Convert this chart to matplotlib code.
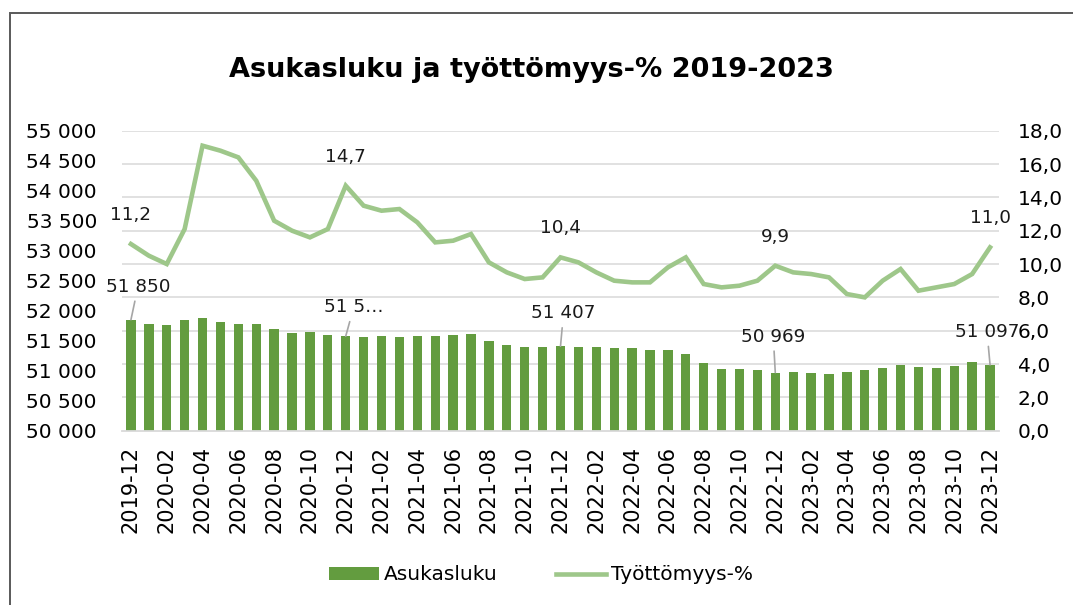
import numpy as np
import matplotlib
matplotlib.use("Agg")
import matplotlib.pyplot as plt
from matplotlib.patches import Rectangle
from matplotlib.ticker import FuncFormatter

# kuukaudet 2019-12 ... 2023-12
months = ["2019-12",
          "2020-01", "2020-02", "2020-03", "2020-04", "2020-05", "2020-06",
          "2020-07", "2020-08", "2020-09", "2020-10", "2020-11", "2020-12",
          "2021-01", "2021-02", "2021-03", "2021-04", "2021-05", "2021-06",
          "2021-07", "2021-08", "2021-09", "2021-10", "2021-11", "2021-12",
          "2022-01", "2022-02", "2022-03", "2022-04", "2022-05", "2022-06",
          "2022-07", "2022-08", "2022-09", "2022-10", "2022-11", "2022-12",
          "2023-01", "2023-02", "2023-03", "2023-04", "2023-05", "2023-06",
          "2023-07", "2023-08", "2023-09", "2023-10", "2023-11", "2023-12"]

asukasluku = [51850, 51780, 51760, 51838, 51876, 51815, 51776, 51776, 51703, 51631,
              51642, 51592, 51575, 51565, 51570, 51565, 51576, 51570, 51592, 51615,
              51503, 51426, 51387, 51403, 51407, 51398, 51398, 51381, 51370, 51353,
              51348, 51270, 51131, 51031, 51031, 51009, 50969, 50970, 50965, 50948,
              50981, 51015, 51037, 51092, 51065, 51053, 51076, 51153, 51097]

tyottomyys = [11.2, 10.5, 10.0, 12.1, 17.1, 16.8, 16.4, 15.0, 12.6, 12.0,
              11.6, 12.1, 14.7, 13.5, 13.2, 13.3, 12.5, 11.3, 11.4, 11.8,
              10.1, 9.5, 9.1, 9.2, 10.4, 10.1, 9.5, 9.0, 8.9, 8.9,
              9.8, 10.4, 8.8, 8.6, 8.7, 9.0, 9.9, 9.5, 9.4, 9.2,
              8.2, 8.0, 9.0, 9.7, 8.4, 8.6, 8.8, 9.4, 11.0]

# indeksit joille on datatunniste
bar_labels = {0: "51 850", 12: "51 5\u2026", 24: "51 407", 36: "50 969", 48: "51 097"}
line_labels = [0, 12, 24, 36, 48]

bar_color = "#639C3F"
line_color = "#9EC78A"
grid_color = "#D9D9D9"
FS = 14.5

fig = plt.figure(figsize=(10.73, 6.05), dpi=100)
ax = fig.add_axes([122 / 1073, 1 - 430.7 / 605, 877 / 1073, 300 / 605])
ax2 = ax.twinx()

x = np.arange(len(months))
ax.bar(x, [v - 50000 for v in asukasluku], bottom=50000, width=0.52,
       color=bar_color, zorder=2, label="Asukasluku")
ax2.plot(x, tyottomyys, color=line_color, lw=3.3, solid_joinstyle="miter",
         label="Työttömyys-%", zorder=3)

ax.set_xlim(-0.5, len(months) - 0.5)
ax.set_ylim(50000, 55000)
ax2.set_ylim(0, 18)

# vaakaviivat oikean akselin mukaan
for v in np.arange(0, 19, 2):
    if v > 0:
        ax.axhline(50000 + v / 18 * 5000, color=grid_color, lw=1.1, zorder=0)

ax.set_yticks(np.arange(50000, 55001, 500))
ax.yaxis.set_major_formatter(FuncFormatter(lambda v, p: f"{int(v):,}".replace(",", " ")))
ax2.set_yticks(np.arange(0, 19, 2))
ax2.yaxis.set_major_formatter(FuncFormatter(lambda v, p: f"{v:.1f}".replace(".", ",")))
ax.set_xticks(x[::2])
ax.set_xticklabels(months[::2], rotation=90)

# pad pisteinä (1 px = 0.72 pt)
ax.tick_params(axis="y", length=0, pad=18, labelsize=FS)
ax2.tick_params(axis="y", length=0, pad=13.5, labelsize=FS)
ax.tick_params(axis="x", length=0, pad=11, labelsize=15)

for s in ["top", "left", "right"]:
    ax.spines[s].set_visible(False)
for s in ax2.spines.values():
    s.set_visible(False)
ax.spines["bottom"].set_color(grid_color)
ax.spines["bottom"].set_linewidth(1.3)

# datatunnisteet
bar_offsets = {0: (7, 33), 12: (8, 29), 24: (3, 33), 36: (-2, 36), 48: (-3, 33)}
for i, txt in bar_labels.items():
    ax.annotate(txt, (x[i], asukasluku[i]), xytext=bar_offsets[i],
                textcoords="offset pixels", ha="center", va="center",
                fontsize=13.2, color="#1a1a1a", zorder=5,
                arrowprops=dict(arrowstyle="-", color="#A6A6A6", lw=1.2,
                                shrinkA=2, shrinkB=0))
for i in line_labels:
    ax2.annotate(f"{tyottomyys[i]:.1f}".replace(".", ","), (x[i], tyottomyys[i]),
                 xytext=(0, 29), textcoords="offset pixels", ha="center",
                 va="center", fontsize=13.2, color="#1a1a1a")

fig.text(531 / 1073, 1 - 70 / 605, "Asukasluku ja työttömyys-% 2019-2023",
         ha="center", va="center", fontsize=19.5, fontweight="bold")

h1, l1 = ax.get_legend_handles_labels()
h2, l2 = ax2.get_legend_handles_labels()
fig.legend(h1 + h2, l1 + l2, loc="center", bbox_to_anchor=(541 / 1073, 1 - 575 / 605),
           ncol=2, frameon=False, fontsize=FS, handlelength=2.5, handleheight=0.6,
           handletextpad=0.25, columnspacing=2.9)

# kehys
fig.patches.append(Rectangle((10 / 1073, -0.1), 1.2, 1.1 - 13 / 605,
                             transform=fig.transFigure, fill=False,
                             edgecolor="#595959", lw=1.4))

fig.savefig("out.png", dpi=100)
